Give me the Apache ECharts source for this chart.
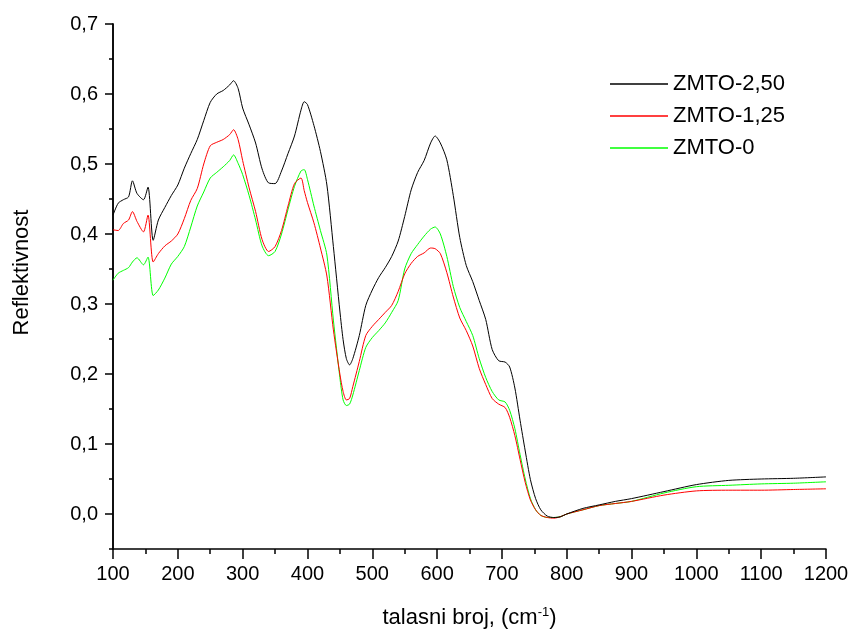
<!DOCTYPE html>
<html>
<head>
<meta charset="utf-8">
<script src="https://cdn.jsdelivr.net/npm/echarts@6/dist/echarts.min.js"></script>
<style>
html,body{margin:0;padding:0;background:#fff;}
#chart{width:852px;height:636px;}
</style>
</head>
<body>
<div id="chart"></div>
<script>
// wavenumber (cm^-1)
var wavenumber = [100,108,116,124,130,137,147,154,162,170,180,190,200,210,220,230,240,250,260,270,280,286,293,300,310,320,330,340,350,360,370,380,390,395,400,410,420,430,440,450,455,460,465,470,480,490,500,510,520,530,540,550,560,570,580,590,597,605,615,625,635,645,655,665,675,685,695,705,712,720,728,736,744,752,760,770,780,790,800,825,850,875,900,950,1000,1050,1100,1150,1200];
var zmto250 = [0.427,0.444,0.449,0.453,0.476,0.458,0.449,0.467,0.391,0.420,0.438,0.455,0.470,0.494,0.515,0.535,0.562,0.588,0.600,0.605,0.613,0.619,0.608,0.580,0.556,0.530,0.493,0.473,0.472,0.490,0.515,0.540,0.577,0.589,0.585,0.555,0.518,0.470,0.382,0.290,0.249,0.222,0.213,0.222,0.255,0.298,0.320,0.338,0.352,0.368,0.390,0.425,0.463,0.488,0.505,0.530,0.540,0.530,0.506,0.455,0.395,0.355,0.332,0.305,0.278,0.235,0.219,0.217,0.210,0.180,0.134,0.090,0.049,0.022,0.006,-0.003,-0.005,-0.004,0.000,0.008,0.013,0.018,0.022,0.032,0.042,0.048,0.050,0.051,0.053];
var zmto125 = [0.406,0.405,0.415,0.420,0.432,0.418,0.403,0.427,0.360,0.372,0.383,0.390,0.400,0.422,0.448,0.465,0.500,0.526,0.531,0.535,0.542,0.549,0.535,0.505,0.466,0.432,0.392,0.375,0.382,0.405,0.440,0.472,0.480,0.462,0.445,0.416,0.380,0.340,0.263,0.200,0.175,0.163,0.165,0.182,0.218,0.255,0.268,0.278,0.288,0.298,0.318,0.343,0.358,0.368,0.373,0.380,0.379,0.372,0.345,0.310,0.280,0.262,0.240,0.208,0.185,0.165,0.157,0.152,0.138,0.112,0.078,0.045,0.020,0.006,-0.002,-0.005,-0.006,-0.004,0.000,0.006,0.012,0.015,0.018,0.027,0.033,0.034,0.034,0.035,0.036];
var zmto0 = [0.334,0.344,0.348,0.352,0.360,0.366,0.356,0.367,0.312,0.320,0.337,0.357,0.368,0.382,0.410,0.440,0.460,0.480,0.488,0.496,0.505,0.513,0.501,0.485,0.455,0.420,0.383,0.369,0.375,0.400,0.435,0.468,0.490,0.492,0.478,0.440,0.405,0.370,0.277,0.195,0.163,0.155,0.157,0.170,0.205,0.238,0.252,0.262,0.273,0.288,0.305,0.350,0.372,0.385,0.397,0.407,0.410,0.400,0.368,0.325,0.295,0.275,0.255,0.222,0.195,0.175,0.163,0.160,0.148,0.122,0.085,0.050,0.022,0.006,-0.002,-0.005,-0.005,-0.004,0.000,0.006,0.012,0.015,0.018,0.030,0.039,0.041,0.043,0.044,0.046];
var seriesNames = ['ZMTO-2,50','ZMTO-1,25','ZMTO-0'];
var seriesColors = ['#000000','#ff0000','#00ff00'];
var xTicks = [100,200,300,400,500,600,700,800,900,1000,1100,1200];
var yTicks = [0,0.1,0.2,0.3,0.4,0.5,0.6,0.7];

function pairs(ys){ return wavenumber.map(function(x,i){ return [x, ys[i]]; }); }
var allY = [zmto250, zmto125, zmto0];
var FONT = 'Liberation Sans, Arial, sans-serif';

var chart = echarts.init(document.getElementById('chart'));
chart.setOption({
  animation: false,
  backgroundColor: '#ffffff',
  grid: {left: 113, right: 26, top: 24, bottom: 87, containLabel: false},
  legend: {
    orient: 'vertical', left: 605, top: 68,
    icon: 'rect', itemWidth: 58, itemHeight: 1.5, itemGap: 10,
    textStyle: {fontFamily: FONT, fontSize: 22, color: '#000', lineHeight: 22},
    data: seriesNames.map(function(n, i){ return {name: n, itemStyle: {color: seriesColors[i]}}; })
  },
  xAxis: {
    type: 'value', min: 100, max: 1200, interval: 100,
    name: 'talasni broj, (cm{sup|-1})',
    nameLocation: 'middle', nameGap: 57,
    nameTextStyle: {fontFamily: FONT, fontSize: 22, color: '#000',
      rich: {sup: {fontFamily: FONT, fontSize: 13, color: '#000', verticalAlign: 'top', padding: [0,0,10,0]}}},
    axisLine: {show: true, onZero: false, lineStyle: {color: '#000', width: 1.5}},
    axisTick: {show: true, inside: false, length: 10, lineStyle: {color: '#000', width: 1.5}},
    minorTick: {show: true, splitNumber: 2, length: 5, lineStyle: {color: '#000', width: 1.5}},
    axisLabel: {fontFamily: FONT, fontSize: 20, color: '#000', margin: 15,
      customValues: xTicks, formatter: function(v){ return String(v); }},
    splitLine: {show: false}, minorSplitLine: {show: false}
  },
  yAxis: [{
    type: 'value', min: -0.05, max: 0.7, interval: 0.05,
    axisLine: {show: true, onZero: false, lineStyle: {color: '#000', width: 1.5}},
    axisTick: {show: true, inside: false, length: 4, lineStyle: {color: '#000', width: 1.5}},
    axisLabel: {show: false},
    splitLine: {show: false}
  }, {
    type: 'value', min: -0.05, max: 0.7, position: 'left', offset: 0,
    name: 'Reflektivnost', nameLocation: 'middle', nameGap: 80, nameRotate: 90,
    nameTextStyle: {fontFamily: FONT, fontSize: 22, color: '#000', padding: [0,0,0,28]},
    axisLine: {show: true, onZero: false, lineStyle: {color: '#000', width: 1.5}},
    axisTick: {show: true, inside: false, length: 8, customValues: yTicks, lineStyle: {color: '#000', width: 1.5}},
    axisLabel: {fontFamily: FONT, fontSize: 20, color: '#000', margin: 15, customValues: yTicks,
      formatter: function(v){ return v.toFixed(1).replace('.', ','); }},
    splitLine: {show: false}
  }],
  series: seriesNames.map(function(n, i){
    return {
      name: n, type: 'line', yAxisIndex: 0, data: pairs(allY[i]),
      symbol: 'none', smooth: 0.25,
      lineStyle: {color: seriesColors[i], width: 1},
      itemStyle: {color: seriesColors[i]},
      z: 3 - i
    };
  })
});
</script>
</body>
</html>
